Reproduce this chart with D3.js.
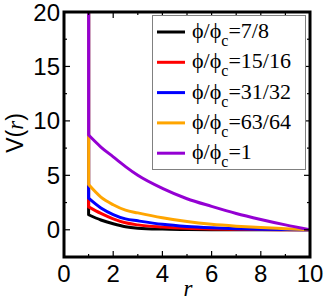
<!DOCTYPE html>
<html>
<head>
<meta charset="utf-8">
<script src="https://cdn.jsdelivr.net/npm/d3@7"></script>
<style>
  body { margin: 0; background: #fff; }
  svg { display: block; }
</style>
</head>
<body>
<div id="chart"></div>
<script>
// r values of the curves; each curve also has a hard-core wall at r = 1
const rValues = [1, 1.5, 2, 2.5, 3, 4, 5, 6, 7, 8, 9, 10];
const wallR = 1, wallTop = 30;

const seriesNames = ["7/8", "15/16", "31/32", "63/64", "1"];
const seriesColors = ["#000000", "#ff0000", "#0000ff", "#ffa500", "#9400d3"];

const vBlack  = [1.38, 0.9, 0.55, 0.28, 0.15, 0.06, 0.03, 0.01, 0.005, 0, 0, 0];
const vRed    = [2.1, 1.5, 1.0, 0.64, 0.45, 0.25, 0.13, 0.07, 0.04, 0.02, 0.01, 0];
const vBlue   = [2.9, 2.0, 1.4, 1.0, 0.82, 0.5, 0.3, 0.18, 0.1, 0.05, 0.02, 0];
const vOrange = [4.15, 3.0, 2.3, 1.8, 1.55, 1.1, 0.75, 0.5, 0.33, 0.2, 0.1, 0];
const vPurple = [8.7, 7.6, 6.7, 5.8, 5.0, 3.8, 2.85, 2.15, 1.5, 0.95, 0.45, 0];

const seriesValues = [vBlack, vRed, vBlue, vOrange, vPurple];

const xTicks = [0, 2, 4, 6, 8, 10];
const xMinor = [1, 3, 5, 7, 9];
const yTicks = [0, 5, 10, 15, 20];
const yMinor = [-2.5, 2.5, 7.5, 12.5, 17.5];

const width = 327, height = 300;
const pLeft = 64, pRight = 310, pTop = 12, pBottom = 257;

const x = d3.scaleLinear().domain([0, 10]).range([pLeft, pRight]);
const y = d3.scaleLinear().domain([-2.5, 20]).range([pBottom, pTop]);

const svg = d3.select("#chart").append("svg")
    .attr("width", width)
    .attr("height", height);

svg.append("defs").append("clipPath").attr("id", "plotclip")
    .append("rect")
    .attr("x", pLeft).attr("y", pTop)
    .attr("width", pRight - pLeft).attr("height", pBottom - pTop);

// curves: wall segment + smooth decay
let line = d3.line()
    .x((d, i) => x(rValues[i]))
    .y(d => y(d))
    .curve(d3.curveMonotoneX);

let curves = svg.append("g").attr("clip-path", "url(#plotclip)");
seriesValues.forEach((vals, i) => {
    let d = "M" + x(wallR) + "," + y(wallTop) + "L" + line(vals).slice(1);
    curves.append("path")
        .attr("d", d)
        .attr("fill", "none")
        .attr("stroke", seriesColors[i])
        .attr("stroke-width", 3)
        .attr("stroke-linejoin", "round");
});

// ticks (inward, on all four sides)
let tickG = svg.append("g").attr("stroke", "#000").attr("stroke-width", 1.2);
function vTicks(vals, len) {
    vals.forEach(v => {
        tickG.append("line").attr("x1", x(v)).attr("x2", x(v)).attr("y1", pBottom).attr("y2", pBottom - len);
        tickG.append("line").attr("x1", x(v)).attr("x2", x(v)).attr("y1", pTop).attr("y2", pTop + len);
    });
}
function hTicks(vals, len) {
    vals.forEach(v => {
        tickG.append("line").attr("y1", y(v)).attr("y2", y(v)).attr("x1", pLeft).attr("x2", pLeft + len);
        tickG.append("line").attr("y1", y(v)).attr("y2", y(v)).attr("x1", pRight).attr("x2", pRight - len);
    });
}
vTicks(xTicks, 6); vTicks(xMinor, 3);
hTicks(yTicks, 6); hTicks(yMinor, 3);

// frame
svg.append("rect")
    .attr("x", pLeft).attr("y", pTop)
    .attr("width", pRight - pLeft).attr("height", pBottom - pTop)
    .attr("fill", "none").attr("stroke", "#000").attr("stroke-width", 3);

// tick labels
svg.append("g").selectAll("text").data(xTicks).enter().append("text")
    .attr("x", d => x(d)).attr("y", 282)
    .attr("text-anchor", "middle")
    .attr("font-family", "Liberation Sans, Arial, sans-serif")
    .attr("font-size", 24)
    .text(d => d);

svg.append("g").selectAll("text").data(yTicks).enter().append("text")
    .attr("x", 60).attr("y", d => y(d) + 8.5)
    .attr("text-anchor", "end")
    .attr("font-family", "Liberation Sans, Arial, sans-serif")
    .attr("font-size", 24)
    .text(d => d);

// axis titles
svg.append("text")
    .attr("x", 188).attr("y", 296)
    .attr("text-anchor", "middle")
    .attr("font-family", "Liberation Serif, serif")
    .attr("font-style", "italic")
    .attr("font-size", 23)
    .text("r");

let yl = svg.append("text")
    .attr("transform", "translate(23," + 133 + ") rotate(-90)")
    .attr("text-anchor", "middle")
    .attr("font-family", "Liberation Sans, Arial, sans-serif")
    .attr("font-size", 23);
yl.append("tspan").text("V(");
yl.append("tspan").attr("font-family", "Liberation Serif, serif").attr("font-style", "italic").text("r");
yl.append("tspan").text(")");

// legend
let lg = svg.append("g");
lg.append("rect")
    .attr("x", 152.5).attr("y", 15.5)
    .attr("width", 153).attr("height", 154)
    .attr("fill", "#fff").attr("stroke", "#808080").attr("stroke-width", 1);

seriesNames.forEach((name, i) => {
    let yy = 32 + i * 30.3;
    lg.append("line")
        .attr("x1", 157).attr("x2", 185)
        .attr("y1", yy).attr("y2", yy)
        .attr("stroke", seriesColors[i]).attr("stroke-width", 3);
    let t = lg.append("text")
        .attr("x", 192).attr("y", yy + 6)
        .attr("font-family", "Liberation Serif, serif")
        .attr("font-size", 22);
    t.append("tspan").text("\u03d5/\u03d5");
    t.append("tspan").attr("font-size", 16).attr("dy", 8).text("c");
    t.append("tspan").attr("dy", -8).text("=" + name);
});
</script>
</body>
</html>
